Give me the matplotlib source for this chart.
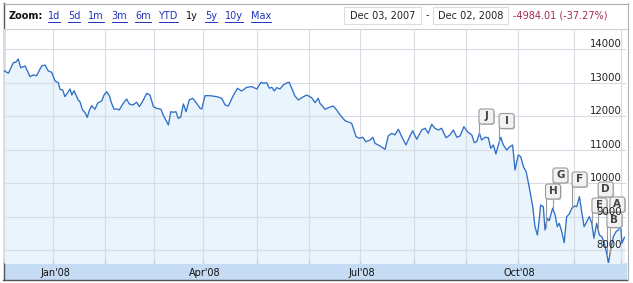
import numpy as np
import matplotlib
matplotlib.use('Agg')
import matplotlib.pyplot as plt
from matplotlib.patches import Rectangle, FancyBboxPatch
from matplotlib.transforms import ScaledTranslation

# trading session counted from Dec 03, 2007 and the index close
session = [0.0, 1.8, 3.8, 4.9, 5.8, 6.8, 8.6, 10.6, 11.9, 13.3, 15.3, 16.7, 18.0, 19.4,
           20.8, 22.1, 22.8, 23.9, 24.8, 25.9, 26.9, 27.6, 28.5, 29.3, 30.2, 30.9, 32.0,
           33.0, 33.9, 34.7, 35.7, 37.0, 38.1, 39.1, 39.8, 40.7, 41.8, 42.9, 43.8, 44.8,
           45.9, 46.9, 48.3, 49.9, 51.0, 52.4, 54.0, 55.1, 56.5, 58.1, 59.4, 60.8, 62.2,
           63.9, 64.8, 66.2, 66.9, 67.9, 68.9, 70.0, 70.9, 71.9, 73.0, 74.1, 75.4, 76.8,
           78.4, 79.8, 80.5, 81.8, 83.8, 86.6, 88.6, 90.0, 91.3, 93.3, 95.0, 96.7, 98.8,
           100.8, 102.9, 104.6, 105.5, 106.9, 108.0, 109.0, 110.0, 111.0, 112.3, 113.7,
           114.8, 116.1, 117.1, 118.4, 119.8, 121.2, 123.2, 125.2, 126.6, 127.9, 128.6,
           130.7, 132.0, 134.0, 135.4, 136.8, 138.8, 141.5, 143.3, 144.6, 146.0, 147.3,
           149.0, 150.1, 151.0, 153.0, 155.1, 156.4, 157.8, 159.1, 160.5, 161.9, 163.6,
           165.0, 166.3, 168.0, 170.0, 171.4, 172.7, 174.1, 175.4, 176.8, 178.1, 179.9,
           181.5, 182.9, 184.3, 185.6, 187.2, 188.6, 190.4, 191.4, 192.4, 193.5, 194.4,
           195.8, 197.1, 198.1, 199.2, 200.2, 201.2, 202.2, 203.2, 204.6, 205.9, 207.0,
           208.0, 209.3, 210.3, 211.4, 212.5, 213.2, 214.1, 215.2, 216.1, 217.1, 217.9,
           218.4, 219.5, 220.2, 221.1, 221.9, 223.3, 224.3, 225.2, 226.0, 227.0, 228.0,
           229.0, 230.1, 231.1, 232.4, 233.1, 234.2, 235.1, 236.1, 237.2, 238.2, 239.2,
           240.1, 241.2, 242.3, 243.3, 244.2, 245.3, 246.0, 246.9, 248.0, 249.1, 250.0,
           251.0, 251.5, 252.5]
close = [13366, 13288, 13605, 13626, 13716, 13455, 13506, 13186, 13237, 13216, 13506,
         13536, 13357, 13318, 13057, 13007, 12809, 12788, 12588, 12707, 12818, 12638,
         12767, 12638, 12489, 12438, 12190, 12109, 11971, 12169, 12318, 12211, 12390,
         12438, 12459, 12638, 12737, 12609, 12390, 12211, 12220, 12190, 12360, 12519,
         12369, 12339, 12420, 12289, 12459, 12689, 12638, 12289, 12240, 12211, 12040,
         11840, 11741, 12139, 12121, 12139, 11941, 11971, 12369, 12139, 12489, 12540,
         12390, 12240, 12220, 12618, 12618, 12588, 12540, 12339, 12309, 12618, 12839,
         12758, 12869, 12889, 12818, 13018, 12989, 13007, 12839, 12869, 12758, 12858,
         12818, 12938, 12989, 13018, 12839, 12609, 12489, 12558, 12638, 12558, 12408,
         12540, 12390, 12211, 12259, 12309, 12190, 12040, 11869, 11791, 11391, 11343,
         11373, 11241, 11292, 11373, 11193, 11113, 11014, 11412, 11492, 11442, 11612,
         11391, 11143, 11373, 11570, 11313, 11591, 11642, 11492, 11762, 11642, 11591,
         11642, 11361, 11442, 11591, 11373, 11412, 11691, 11541, 11442, 11211, 11241,
         11492, 11292, 11373, 11361, 11044, 11143, 10873, 11143, 11373, 11143, 10993,
         11092, 11143, 10394, 10843, 10793, 10494, 10344, 10095, 9745, 9296, 8698, 8450,
         8949, 9347, 9296, 8599, 8949, 8878, 9251, 9048, 8698, 8799, 8549, 8219, 8998,
         9078, 9251, 9318, 9296, 9596, 9147, 8698, 8848, 8998, 8818, 8350, 8799, 8450,
         8400, 8249, 7902, 7603, 8001, 8400, 8549, 8599, 8698, 8200, 8380]

month_sessions = [0, 20, 41, 61, 81, 103, 124, 145, 167, 188, 209, 232, 251]
month_labels = ['', "Jan'08", '', '', "Apr'08", '', '', "Jul'08", '', '', "Oct'08", '', '']
y_levels = [8000, 9000, 10000, 11000, 12000, 13000, 14000]

flag_letters = ['J', 'I', 'H', 'G', 'F', 'E', 'D', 'B', 'A']
flag_session = [193.3, 201.5, 220.4, 223.4, 231.2, 239.3, 241.8, 245.4, 246.6]
flag_level = [11995, 11860, 9751, 10230, 10110, 9332, 9811, 8898, 9362]

zoom_links = ['1d', '5d', '1m', '3m', '6m', 'YTD', '1y', '5y', '10y', 'Max']
date_from = 'Dec 03, 2007'
date_to = 'Dec 02, 2008'
change_text = '-4984.01 (-37.27%)'

W, H = 633, 283
fig = plt.figure(figsize=(W / 100, H / 100), dpi=100)
plt.rcParams['font.family'] = ['DejaVu Sans']

# page chrome drawn in pixel units
bg = fig.add_axes([0, 0, 1, 1])
bg.set_xlim(0, W)
bg.set_ylim(H, 0)
bg.axis('off')
bg.add_patch(Rectangle((4, 263), 622, 16, color='#c6dbf4', zorder=1))
bg.plot([3.5, 3.5], [3, 280], color='#555555', lw=1, zorder=3)
bg.plot([3, 627], [279.5, 279.5], color='#555555', lw=1, zorder=3)
bg.plot([3, 627.5], [3.5, 3.5], color='#b0b0b0', lw=0.8, zorder=3)
bg.plot([627.5, 627.5], [3, 280], color='#b0b0b0', lw=0.8, zorder=3)
bg.plot([4, 627], [28.5, 28.5], color='#cfcfcf', lw=0.8, zorder=3)

fs = 7
renderer = fig.canvas.get_renderer()
bg.text(9, 16, 'Zoom:', fontsize=fs, fontweight='bold', color='#111111', va='center')
x = 48
for link in zoom_links:
    col = '#111111' if link == '1y' else '#2233bb'
    t = bg.text(x, 16, link, fontsize=fs, color=col, va='center')
    bb = t.get_window_extent(renderer)
    if link != '1y':
        bg.plot([x, x + bb.width], [21.5, 21.5], color=col, lw=0.7)
    x += bb.width + 7.8

bg.add_patch(Rectangle((344, 7), 77, 17, fc='white', ec='#dddddd', lw=0.8))
bg.add_patch(Rectangle((433, 7), 75, 17, fc='white', ec='#dddddd', lw=0.8))
bg.text(382.5, 15.5, date_from, fontsize=fs, color='#222222', ha='center', va='center')
bg.text(427, 15.5, '-', fontsize=fs, color='#222222', ha='center', va='center')
bg.text(470.5, 15.5, date_to, fontsize=fs, color='#222222', ha='center', va='center')
bg.text(513, 15.5, change_text, fontsize=fs, color='#a8284a', ha='left', va='center')

# chart area
ax = fig.add_axes([4 / W, (H - 263) / H, 622 / W, 234 / H])
ax.set_xlim(0, 622 / 2.457)
ax.set_ylim(7611, 14613)
ax.patch.set_alpha(0)
for sp in ax.spines.values():
    sp.set_visible(False)

ax.fill_between(session, close, 7000, color='#eaf4fd', lw=0, zorder=1)
for m in month_sessions:
    ax.axvline(m, color='#d6dbe4', lw=0.8, zorder=2)
for v in y_levels:
    ax.axhline(v, color='#d6dbe4', lw=0.8, zorder=2)
ax.plot(session, close, color='#2f6fc6', lw=0.95, zorder=4)

ax.set_xticks(month_sessions)
ax.set_xticklabels(month_labels, fontsize=fs, color='#111111')
ax.tick_params(axis='x', direction='in', length=3.6, width=0.8, color='#777777', pad=3.5)
for lbl in ax.get_xticklabels():
    lbl.set_transform(lbl.get_transform() + ScaledTranslation(0.02, 0, fig.dpi_scale_trans))
ax.set_yticks([])

lab_tr = ax.get_yaxis_transform() + ScaledTranslation(-0.04, 0.02, fig.dpi_scale_trans)
for v in y_levels:
    ax.text(1, v, str(v), transform=lab_tr, fontsize=7.3, color='#222222',
            ha='right', va='baseline', zorder=9)

# event flags
for letter, s, lev in zip(flag_letters, flag_session, flag_level):
    y_line = np.interp(s, session, close)
    tr = fig.dpi_scale_trans + ScaledTranslation(s, lev, ax.transData)
    ax.plot([s, s], [y_line, lev], color='#999999', lw=0.8, zorder=5)
    ax.add_patch(FancyBboxPatch((0.01, -0.085), 0.15, 0.15,
                                boxstyle='round,pad=0,rounding_size=0.025',
                                fc='#c8c8c8', ec='none', transform=tr, zorder=6, clip_on=False))
    ax.add_patch(FancyBboxPatch((0, -0.075), 0.15, 0.15,
                                boxstyle='round,pad=0,rounding_size=0.025',
                                fc='#f2f2f2', ec='#9a9a9a', lw=0.8, transform=tr, zorder=7,
                                clip_on=False))
    ax.text(0.075, 0, letter, transform=tr, fontsize=7.5, fontweight='bold', color='#444444',
            ha='center', va='center', zorder=8)

fig.savefig('out.png', dpi=100)
